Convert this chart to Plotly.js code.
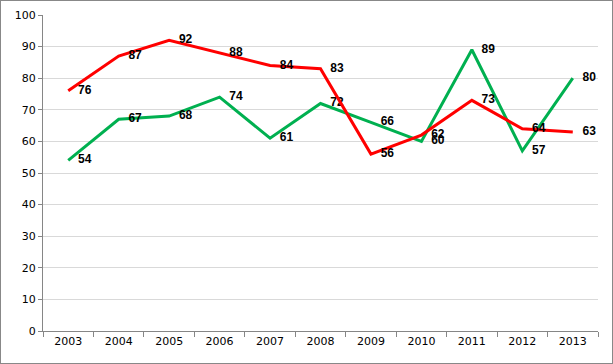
<!DOCTYPE html>
<html><head><meta charset="utf-8">
<script src="https://cdn.plot.ly/plotly-3.0.1.min.js"></script>
<style>
html,body{margin:0;padding:0;background:#fff;}
#chart{width:613px;height:364px;box-sizing:border-box;border:1px solid #888;}
</style></head>
<body><div id="chart"></div>
<script>
const years = ['2003','2004','2005','2006','2007','2008','2009','2010','2011','2012','2013'];
const redValues = [76, 87, 92, 88, 84, 83, 56, 62, 73, 64, 63];
const greenValues = [54, 67, 68, 74, 61, 72, 66, 60, 89, 57, 80];
const yTicks = [0,10,20,30,40,50,60,70,80,90,100];

function series(vals, color){
  return {
    x: years, y: vals, type:'scatter', mode:'lines+markers+text',
    line:{color:color, width:3},
    marker:{size:14, color:'rgba(0,0,0,0)'},
    text: vals.map(String), textposition:'middle right',
    textfont:{family:'Liberation Sans, Arial, sans-serif', size:12, color:'#000', weight:'bold'},
    cliponaxis:false, hoverinfo:'skip', showlegend:false
  };
}

const data = [series(greenValues,'#00B050'), series(redValues,'#FF0000')];
const layout = {
  width:611, height:362,
  margin:{l:42, r:14, t:14, b:32, pad:0},
  paper_bgcolor:'#fff', plot_bgcolor:'#fff',
  showlegend:false,
  xaxis:{type:'category', range:[-0.5,10.5], tickson:'boundaries', ticks:'outside', ticklen:5,
    tickcolor:'#868686', showline:true, linecolor:'#868686', linewidth:1, showgrid:false,
    tickfont:{family:'DejaVu Sans, Verdana, sans-serif', size:11, color:'#000'}, fixedrange:true},
  yaxis:{range:[0,100], tickvals:yTicks, ticks:'outside', ticklen:4, tickcolor:'#868686',
    showline:true, linecolor:'#868686', linewidth:1, showgrid:true, gridcolor:'#d9d9d9', gridwidth:1,
    zeroline:false, tickfont:{family:'DejaVu Sans, Verdana, sans-serif', size:11, color:'#000'}, fixedrange:true}
};
Plotly.newPlot('chart', data, layout, {staticPlot:true, displayModeBar:false});
</script></body></html>
